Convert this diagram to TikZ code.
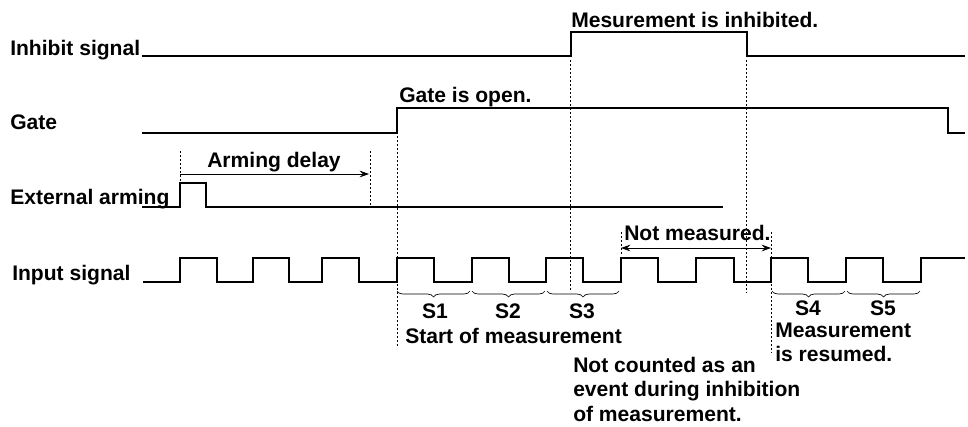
\documentclass[tikz,border=0pt]{standalone}
\usepackage{fontspec}
\setmainfont{Liberation Sans}
\usetikzlibrary{arrows.meta,decorations.pathreplacing}
\begin{document}
\begin{tikzpicture}[x=0.75pt,y=0.75pt,
  wave/.style={line width=0.9pt,line join=miter},
  guide/.style={line width=0.6pt,dash pattern=on 1.5pt off 1.5pt},
  lbl/.style={inner sep=0pt,anchor=base west,font=\fontsize{15.8}{18}\selectfont\bfseries},
  slbl/.style={inner sep=0pt,anchor=base,font=\fontsize{15.8}{18}\selectfont\bfseries},
  dimarrow/.style={line width=0.6pt,-{Stealth[length=7pt,width=5pt,inset=2.5pt]}},
  dimarrows/.style={line width=0.6pt,{Stealth[length=7pt,width=5pt,inset=2.5pt]}-{Stealth[length=7pt,width=5pt,inset=2.5pt]}},
  sbrace/.style={line width=0.5pt,decorate,decoration={brace,mirror,amplitude=4.5pt}}]
\useasboundingbox (0,0) rectangle (968,-426);

% labels
\node[lbl] (inh) at (10,-55) {Inhibit signal};
\node[lbl] (gate) at (10,-129) {Gate};
\node[lbl] (ext) at (10,-204) {External arming};
\node[lbl] (inp) at (12,-280) {Input signal};
\node[lbl] (arm) at (207,-167) {Arming delay};
\node[lbl] (gopen) at (399,-102) {Gate is open.};
\node[lbl] (minh) at (571,-27) {Mesurement is inhibited.};
\node[lbl] (nm) at (624,-240) {Not measured.};
\node[slbl] (s1) at (435,-318) {S1};
\node[slbl] (s2) at (508,-318) {S2};
\node[slbl] (s3) at (582,-318) {S3};
\node[slbl] (s4) at (808,-315) {S4};
\node[slbl] (s5) at (883,-315) {S5};
\node[lbl] (start) at (405,-343) {Start of measurement};
\node[lbl] (res1) at (775,-337) {Measurement};
\node[lbl] (res2) at (775,-361) {is resumed.};
\node[lbl] (nc1) at (573,-372) {Not counted as an};
\node[lbl] (nc2) at (573,-396) {event during inhibition};
\node[lbl] (nc3) at (573,-421) {of measurement.};

% inhibit signal
\draw[wave] (142,-56) -- (571,-56) -- (571,-32) -- (747,-32) -- (747,-56) -- (965,-56);
% gate
\draw[wave] (142,-133) -- (397,-133) -- (397,-108) -- (948,-108) -- (948,-133) -- (965,-133);
% external arming
\draw[wave] (142,-207) -- (180,-207) -- (180,-183) -- (206,-183) -- (206,-207) -- (723,-207);
% input signal
\draw[wave] (143,-282)
  -- (180,-282) -- (180,-258) -- (217,-258) -- (217,-282)
  -- (253,-282) -- (253,-258) -- (289,-258) -- (289,-282)
  -- (322,-282) -- (322,-258) -- (359,-258) -- (359,-282)
  -- (397,-282) -- (397,-258) -- (434,-258) -- (434,-282)
  -- (472,-282) -- (472,-258) -- (509,-258) -- (509,-282)
  -- (546,-282) -- (546,-258) -- (583,-258) -- (583,-282)
  -- (621,-282) -- (621,-258) -- (658,-258) -- (658,-282)
  -- (696,-282) -- (696,-258) -- (734,-258) -- (734,-282)
  -- (771,-282) -- (771,-258) -- (808,-258) -- (808,-282)
  -- (846,-282) -- (846,-258) -- (883,-258) -- (883,-282)
  -- (921,-282) -- (921,-258) -- (965,-258);

% guide lines
\draw[guide] (180,-151) -- (180,-183);
\draw[guide] (370,-151) -- (370,-207);
\draw[guide] (397,-136) -- (397,-348);
\draw[guide] (570,-60) -- (570,-290);
\draw[guide] (746,-60) -- (746,-293);
\draw[guide] (621,-232) -- (621,-256);
\draw[guide] (771,-232) -- (771,-353);

% dimension arrows
\draw[dimarrow] (180,-174) -- (369,-174);
\draw[dimarrows] (621,-248) -- (771,-248);

% braces
\draw[sbrace] (397,-291) -- (470,-291);
\draw[sbrace] (472,-291) -- (545,-291);
\draw[sbrace] (547,-291) -- (619,-291);
\draw[sbrace] (772,-291) -- (845,-291);
\draw[sbrace] (847,-291) -- (920,-291);
\end{tikzpicture}
\end{document}
